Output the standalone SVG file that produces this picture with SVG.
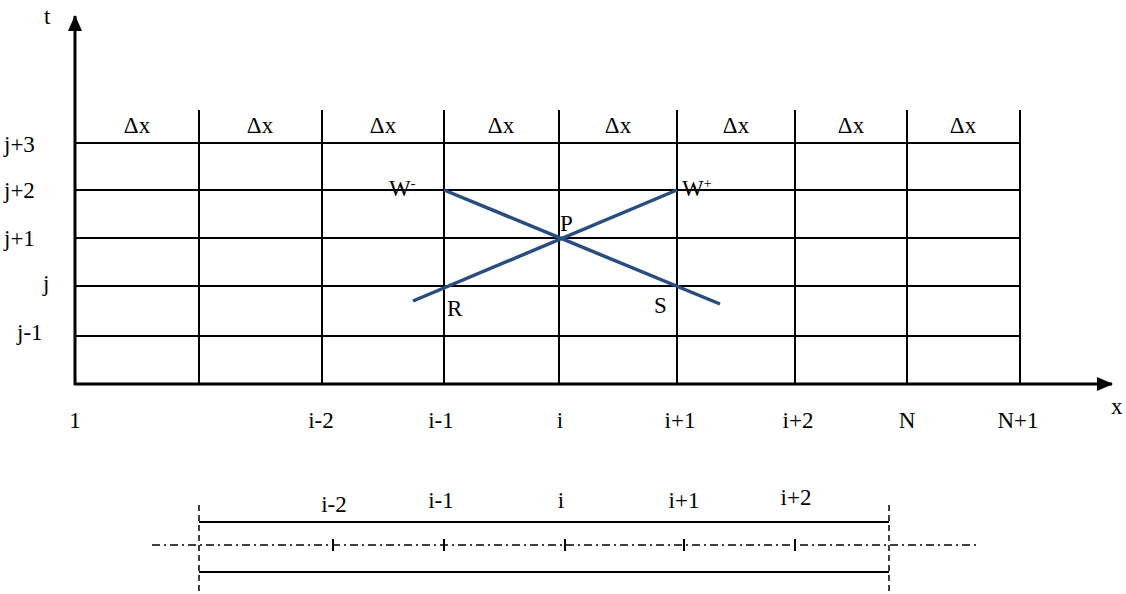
<svg xmlns="http://www.w3.org/2000/svg" width="1126" height="594" viewBox="0 0 1126 594">
<defs>
<style>
.m{text-anchor:middle}
.g{stroke:#000;stroke-width:2;fill:none}
.b{stroke:#2a4d80;stroke-width:3.5;fill:none}
.d{stroke:#000;stroke-width:1.5;stroke-dasharray:6,4;fill:none}
.dd{stroke:#000;stroke-width:1.5;stroke-dasharray:8,4,2,4;fill:none}
</style>
<marker id="ar" markerWidth="16" markerHeight="14" refX="15" refY="7" orient="auto" markerUnits="userSpaceOnUse" viewBox="0 0 16 14">
<path d="M0,0 L16,7 L0,14 z" fill="#000"/>
</marker>
</defs>
<g font-family="Liberation Serif" font-size="23" fill="#000">
<g id="axes">
<line class="g" x1="75" y1="385" x2="75" y2="16" marker-end="url(#ar)" style="stroke-width:3"/>
<line class="g" x1="74" y1="384" x2="1112" y2="384" marker-end="url(#ar)" style="stroke-width:3"/>
<text x="44" y="24">t</text>
<text x="1111" y="414">x</text>
</g>
<g id="grid">
<line class="g" x1="199" y1="110" x2="199" y2="384"/>
<line class="g" x1="322" y1="110" x2="322" y2="384"/>
<line class="g" x1="444" y1="110" x2="444" y2="384"/>
<line class="g" x1="559" y1="110" x2="559" y2="384"/>
<line class="g" x1="677" y1="110" x2="677" y2="384"/>
<line class="g" x1="795" y1="110" x2="795" y2="384"/>
<line class="g" x1="907" y1="110" x2="907" y2="384"/>
<line class="g" x1="1020" y1="110" x2="1020" y2="384"/>
<line class="g" x1="75" y1="143" x2="1020" y2="143"/>
<line class="g" x1="75" y1="190" x2="1020" y2="190"/>
<line class="g" x1="75" y1="238" x2="1020" y2="238"/>
<line class="g" x1="75" y1="286" x2="1020" y2="286"/>
<line class="g" x1="75" y1="336" x2="1020" y2="336"/>
</g>
<g id="dx-labels">
<text class="m" x="137" y="133">Δx</text>
<text class="m" x="260" y="133">Δx</text>
<text class="m" x="383" y="133">Δx</text>
<text class="m" x="501" y="133">Δx</text>
<text class="m" x="618" y="133">Δx</text>
<text class="m" x="736" y="133">Δx</text>
<text class="m" x="851" y="133">Δx</text>
<text class="m" x="963" y="133">Δx</text>
</g>
<g id="row-labels">
<text x="4" y="152">j+3</text>
<text x="4" y="198">j+2</text>
<text x="4" y="246">j+1</text>
<text x="43" y="291">j</text>
<text x="17" y="340">j-1</text>
</g>
<g id="col-labels">
<text class="m" x="75" y="428">1</text>
<text class="m" x="321" y="428">i-2</text>
<text class="m" x="441" y="428">i-1</text>
<text class="m" x="560" y="428">i</text>
<text class="m" x="680" y="428">i+1</text>
<text class="m" x="798" y="428">i+2</text>
<text class="m" x="907" y="428">N</text>
<text class="m" x="1018" y="428">N+1</text>
</g>
<g id="characteristics">
<line class="b" x1="444" y1="190" x2="720" y2="304"/>
<line class="b" x1="677" y1="190" x2="413" y2="301"/>
</g>
<g id="point-labels">
<text x="389" y="196">W<tspan dy="-8" font-size="14">-</tspan></text>
<text x="682" y="196">W<tspan dy="-8" font-size="14">+</tspan></text>
<text x="560" y="231">P</text>
<text x="447" y="316">R</text>
<text x="654" y="313">S</text>
</g>
<g id="bottom">
<line class="d" x1="199" y1="505" x2="199" y2="594"/>
<line class="d" x1="889" y1="505" x2="889" y2="594"/>
<line class="g" x1="199" y1="522" x2="889" y2="522"/>
<line class="g" x1="199" y1="572" x2="889" y2="572"/>
<line class="dd" x1="152" y1="545" x2="976" y2="545"/>
<g class="g">
<line x1="333" y1="539" x2="333" y2="551"/>
<line x1="444" y1="539" x2="444" y2="551"/>
<line x1="565" y1="539" x2="565" y2="551"/>
<line x1="684" y1="539" x2="684" y2="551"/>
<line x1="795" y1="539" x2="795" y2="551"/>
</g>
<text class="m" x="334" y="512">i-2</text>
<text class="m" x="441" y="508">i-1</text>
<text class="m" x="561" y="508">i</text>
<text class="m" x="684" y="508">i+1</text>
<text class="m" x="796" y="505">i+2</text>
</g>
</g>
</svg>
